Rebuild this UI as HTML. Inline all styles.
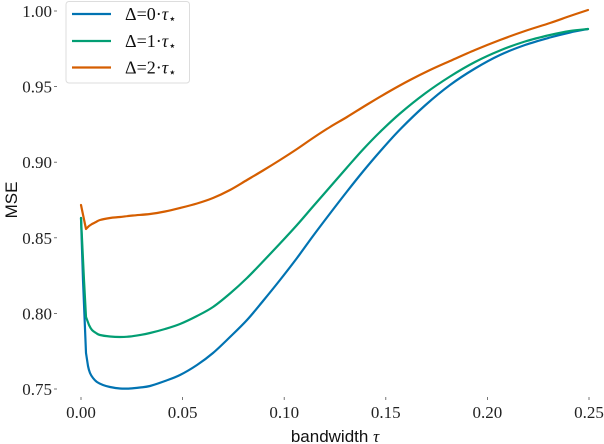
<!DOCTYPE html>
<html><head><meta charset="utf-8"><style>
html,body{margin:0;padding:0;background:#fff;}
svg{display:block;}
.tl{font-family:"Liberation Serif",serif;font-size:17px;fill:#222;}
</style></head><body>
<svg id="s" width="604" height="444" viewBox="0 0 604 444" xmlns="http://www.w3.org/2000/svg">
<rect width="604" height="444" fill="#fff"/>
<g stroke="#555" stroke-width="0.8">
<line x1="54" y1="11" x2="57" y2="11"/>
<line x1="54" y1="86.6" x2="57" y2="86.6"/>
<line x1="54" y1="162.2" x2="57" y2="162.2"/>
<line x1="54" y1="237.8" x2="57" y2="237.8"/>
<line x1="54" y1="313.4" x2="57" y2="313.4"/>
<line x1="54" y1="389" x2="57" y2="389"/>
<line x1="81" y1="397" x2="81" y2="400"/>
<line x1="182.6" y1="397" x2="182.6" y2="400"/>
<line x1="284.2" y1="397" x2="284.2" y2="400"/>
<line x1="385.8" y1="397" x2="385.8" y2="400"/>
<line x1="487.4" y1="397" x2="487.4" y2="400"/>
<line x1="589" y1="397" x2="589" y2="400"/>
</g>
<g class="tl" text-anchor="end">
<text x="52" y="17">1.00</text>
<text x="52" y="92.6">0.95</text>
<text x="52" y="168.2">0.90</text>
<text x="52" y="243.8">0.85</text>
<text x="52" y="319.4">0.80</text>
<text x="52" y="395">0.75</text>
</g>
<g class="tl" text-anchor="middle">
<text x="81" y="418">0.00</text>
<text x="182.6" y="418">0.05</text>
<text x="284.2" y="418">0.10</text>
<text x="385.8" y="418">0.15</text>
<text x="487.4" y="418">0.20</text>
<text x="589" y="418">0.25</text>
</g>
<text x="335" y="442" text-anchor="middle" font-family="Liberation Sans, sans-serif" font-size="17" fill="#111">bandwidth <tspan font-family="Liberation Serif, serif" font-style="italic">τ</tspan></text>
<text transform="translate(17,200) rotate(-90)" text-anchor="middle" font-family="Liberation Sans, sans-serif" font-size="17" fill="#111">MSE</text>

<g fill="none" stroke-width="2.2" stroke-linejoin="round" stroke-linecap="round">
<polyline class="c" stroke="#0173b2" points="81,218 83,280 86,353 88,366 90,373 93,378 97,382 103,385 110,387 120,388.5 130,388.5 140,387.5 150,386 165,381 180,375 197,365 213,353 230,337 247,320 263,301 280,280 297,258 313,236 330,213.5 347,191.5 363,171.5 380,151.5 400,129.5 425,105.5 450,85 475,68.5 500,55 525,45 550,37.5 570,32.5 588,29"/>
<polyline class="c" stroke="#029e73" points="81,218 84,280 86,317 89,325 92,330 96,333 100,335 110,336.5 120,337 130,336.5 140,335 150,333 165,329 180,324 197,316 213,307 230,293.5 247,278 263,261.5 280,243.5 297,225 313,206.5 330,187 347,167.5 363,149.5 380,132 400,113.5 425,93.5 450,76.5 475,62 500,50.5 525,41.5 550,35 570,31 588,29"/>
<polyline class="c" stroke="#d55e00" points="81,205 86,229 89,226 92,224 96,222 100,220 110,218 120,217 133,215.5 150,214 165,211.5 180,208 197,203.5 213,198 230,190 247,180 263,170.5 280,160 297,149 313,138 330,127 347,117 368,104 390,91 410,80 430,70 450,61 475,50 500,40 525,31 550,23 570,16 588,10"/>
</g>

<rect x="66" y="1.5" width="123.5" height="81.5" rx="3" ry="3" fill="#fff" fill-opacity="0.85" stroke="#ddd" stroke-width="1"/>
<g stroke-width="2.2">
<line x1="72" y1="14" x2="111" y2="14" stroke="#0173b2"/>
<line x1="72" y1="41" x2="111" y2="41" stroke="#029e73"/>
<line x1="72" y1="67.5" x2="111" y2="67.5" stroke="#d55e00"/>
</g>
<g font-family="Liberation Serif, serif" font-size="18" fill="#111">
<text x="125" y="20">Δ=0·<tspan font-style="italic">τ</tspan><tspan font-size="13" dy="3">⋆</tspan></text>
<text x="125" y="47">Δ=1·<tspan font-style="italic">τ</tspan><tspan font-size="13" dy="3">⋆</tspan></text>
<text x="125" y="73.5">Δ=2·<tspan font-style="italic">τ</tspan><tspan font-size="13" dy="3">⋆</tspan></text>
</g>
</svg>
<script>
(function(){
var ns="http://www.w3.org/2000/svg";
var pls=document.querySelectorAll("polyline.c");
for(var k=0;k<pls.length;k++){
var pl=pls[k];
var pts=pl.getAttribute("points").trim().split(/\s+/).map(function(s){var a=s.split(",");return [parseFloat(a[0]),parseFloat(a[1])];});
var d="M"+pts[0][0]+","+pts[0][1];
for(var i=0;i<pts.length-1;i++){
var p0=pts[i>0?i-1:0],p1=pts[i],p2=pts[i+1],p3=pts[i+2<pts.length?i+2:i+1];
var t=(i<3)?0.0:1/6;
var c1x=p1[0]+(p2[0]-p0[0])*t,c1y=p1[1]+(p2[1]-p0[1])*t;
var c2x=p2[0]-(p3[0]-p1[0])*t,c2y=p2[1]-(p3[1]-p1[1])*t;
d+=" C"+c1x.toFixed(2)+","+c1y.toFixed(2)+" "+c2x.toFixed(2)+","+c2y.toFixed(2)+" "+p2[0]+","+p2[1];
}
var path=document.createElementNS(ns,"path");
path.setAttribute("d",d);
path.setAttribute("stroke",pl.getAttribute("stroke"));
pl.parentNode.replaceChild(path,pl);
}
})();
</script>
</body></html>
